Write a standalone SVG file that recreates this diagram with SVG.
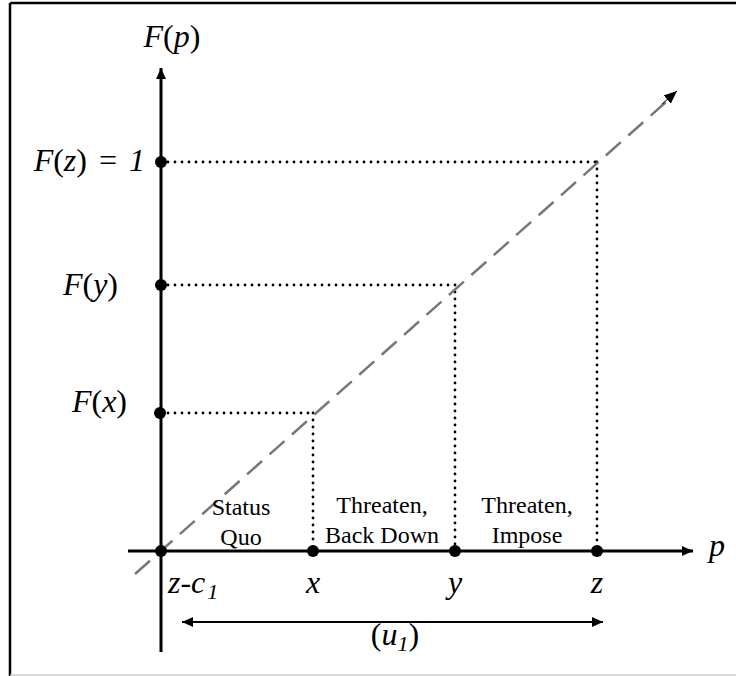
<svg xmlns="http://www.w3.org/2000/svg" width="736" height="676" viewBox="0 0 736 676">
<style>
.m{font-family:"Liberation Serif","Times New Roman",serif;font-style:italic;font-size:32px;fill:#000}
.n{font-style:normal}
.s{font-size:22px}
.t{font-family:"Liberation Serif","Times New Roman",serif;font-size:24px;fill:#000;text-anchor:middle}
.ax{stroke:#000;stroke-width:3;fill:none}
.dot{stroke:#000;stroke-width:2.8;stroke-dasharray:0 7;stroke-linecap:round;fill:none}
.pt{fill:#000}
</style>
<defs>
<marker id="ah" viewBox="0 0 11 10" refX="11" refY="5" markerWidth="11" markerHeight="10" markerUnits="userSpaceOnUse" orient="auto-start-reverse"><path d="M0,0 L11,5 L0,10 z" fill="#000"/></marker>
<marker id="ahb" viewBox="0 0 13 11" refX="13" refY="5.5" markerWidth="13" markerHeight="11" markerUnits="userSpaceOnUse" orient="auto"><path d="M0,0 L13,5.5 L0,11 z" fill="#000"/></marker>
</defs>
<rect width="736" height="676" fill="#fff"/>
<g id="frame">
<line x1="10" y1="3" x2="736" y2="3" stroke="#000" stroke-width="2.5"/>
<line x1="10" y1="3" x2="10" y2="676" stroke="#000" stroke-width="2.5"/>
<line x1="10" y1="675" x2="736" y2="675" stroke="#ccc" stroke-width="1.5"/>
</g>
<g id="connectors">
<line class="dot" x1="168" y1="162" x2="597" y2="162"/>
<line class="dot" x1="597" y1="162" x2="597" y2="545"/>
<line class="dot" x1="168" y1="285" x2="455" y2="285"/>
<line class="dot" x1="455" y1="285" x2="455" y2="545"/>
<line class="dot" x1="168" y1="413" x2="313" y2="413"/>
<line class="dot" x1="313" y1="413" x2="313" y2="545"/>
<line x1="135" y1="574" x2="666" y2="102" stroke="#777" stroke-width="2.5" stroke-dasharray="20 10"/>
<line x1="662" y1="104" x2="677" y2="91" stroke="#000" stroke-width="1" marker-end="url(#ahb)"/>
<line class="ax" x1="161" y1="652" x2="161" y2="68" marker-end="url(#ah)"/>
<line class="ax" x1="128" y1="551" x2="693" y2="551" marker-end="url(#ah)"/>
<line x1="182" y1="622" x2="603" y2="622" stroke="#000" stroke-width="2" marker-start="url(#ah)" marker-end="url(#ah)"/>
</g>
<g id="points">
<circle class="pt" cx="161" cy="551" r="6"/>
<circle class="pt" cx="313" cy="551" r="6"/>
<circle class="pt" cx="455" cy="551" r="6"/>
<circle class="pt" cx="597" cy="551" r="6"/>
<circle class="pt" cx="161" cy="162" r="6"/>
<circle class="pt" cx="161" cy="285" r="6"/>
<circle class="pt" cx="160" cy="413" r="6"/>
</g>
<g id="labels">
<text class="m" x="172" y="47" text-anchor="middle">F<tspan class="n">(</tspan>p<tspan class="n">)</tspan></text>
<text class="m" x="145" y="171" text-anchor="end">F<tspan class="n">(</tspan>z<tspan class="n">)</tspan><tspan class="n" dx="12">=</tspan><tspan dx="12">1</tspan></text>
<text class="m" x="118" y="295" text-anchor="end">F<tspan class="n">(</tspan>y<tspan class="n">)</tspan></text>
<text class="m" x="127" y="412" text-anchor="end">F<tspan class="n">(</tspan>x<tspan class="n">)</tspan></text>
<text class="m" x="168" y="593">z-c<tspan class="s" dx="2" dy="6">1</tspan></text>
<text class="m" x="313" y="593" text-anchor="middle">x</text>
<text class="m" x="455" y="593" text-anchor="middle">y</text>
<text class="m" x="597" y="593" text-anchor="middle">z</text>
<text class="m" x="717" y="556" text-anchor="middle">p</text>
<text class="m" x="395" y="645" text-anchor="middle"><tspan class="n">(</tspan>u<tspan class="s" dy="6">1</tspan><tspan class="n" dy="-6">)</tspan></text>
<text class="t" x="241" y="515">Status</text>
<text class="t" x="241" y="545">Quo</text>
<text class="t" x="382" y="513">Threaten,</text>
<text class="t" x="382" y="543">Back Down</text>
<text class="t" x="527" y="513">Threaten,</text>
<text class="t" x="527" y="543">Impose</text>
</g>
</svg>
